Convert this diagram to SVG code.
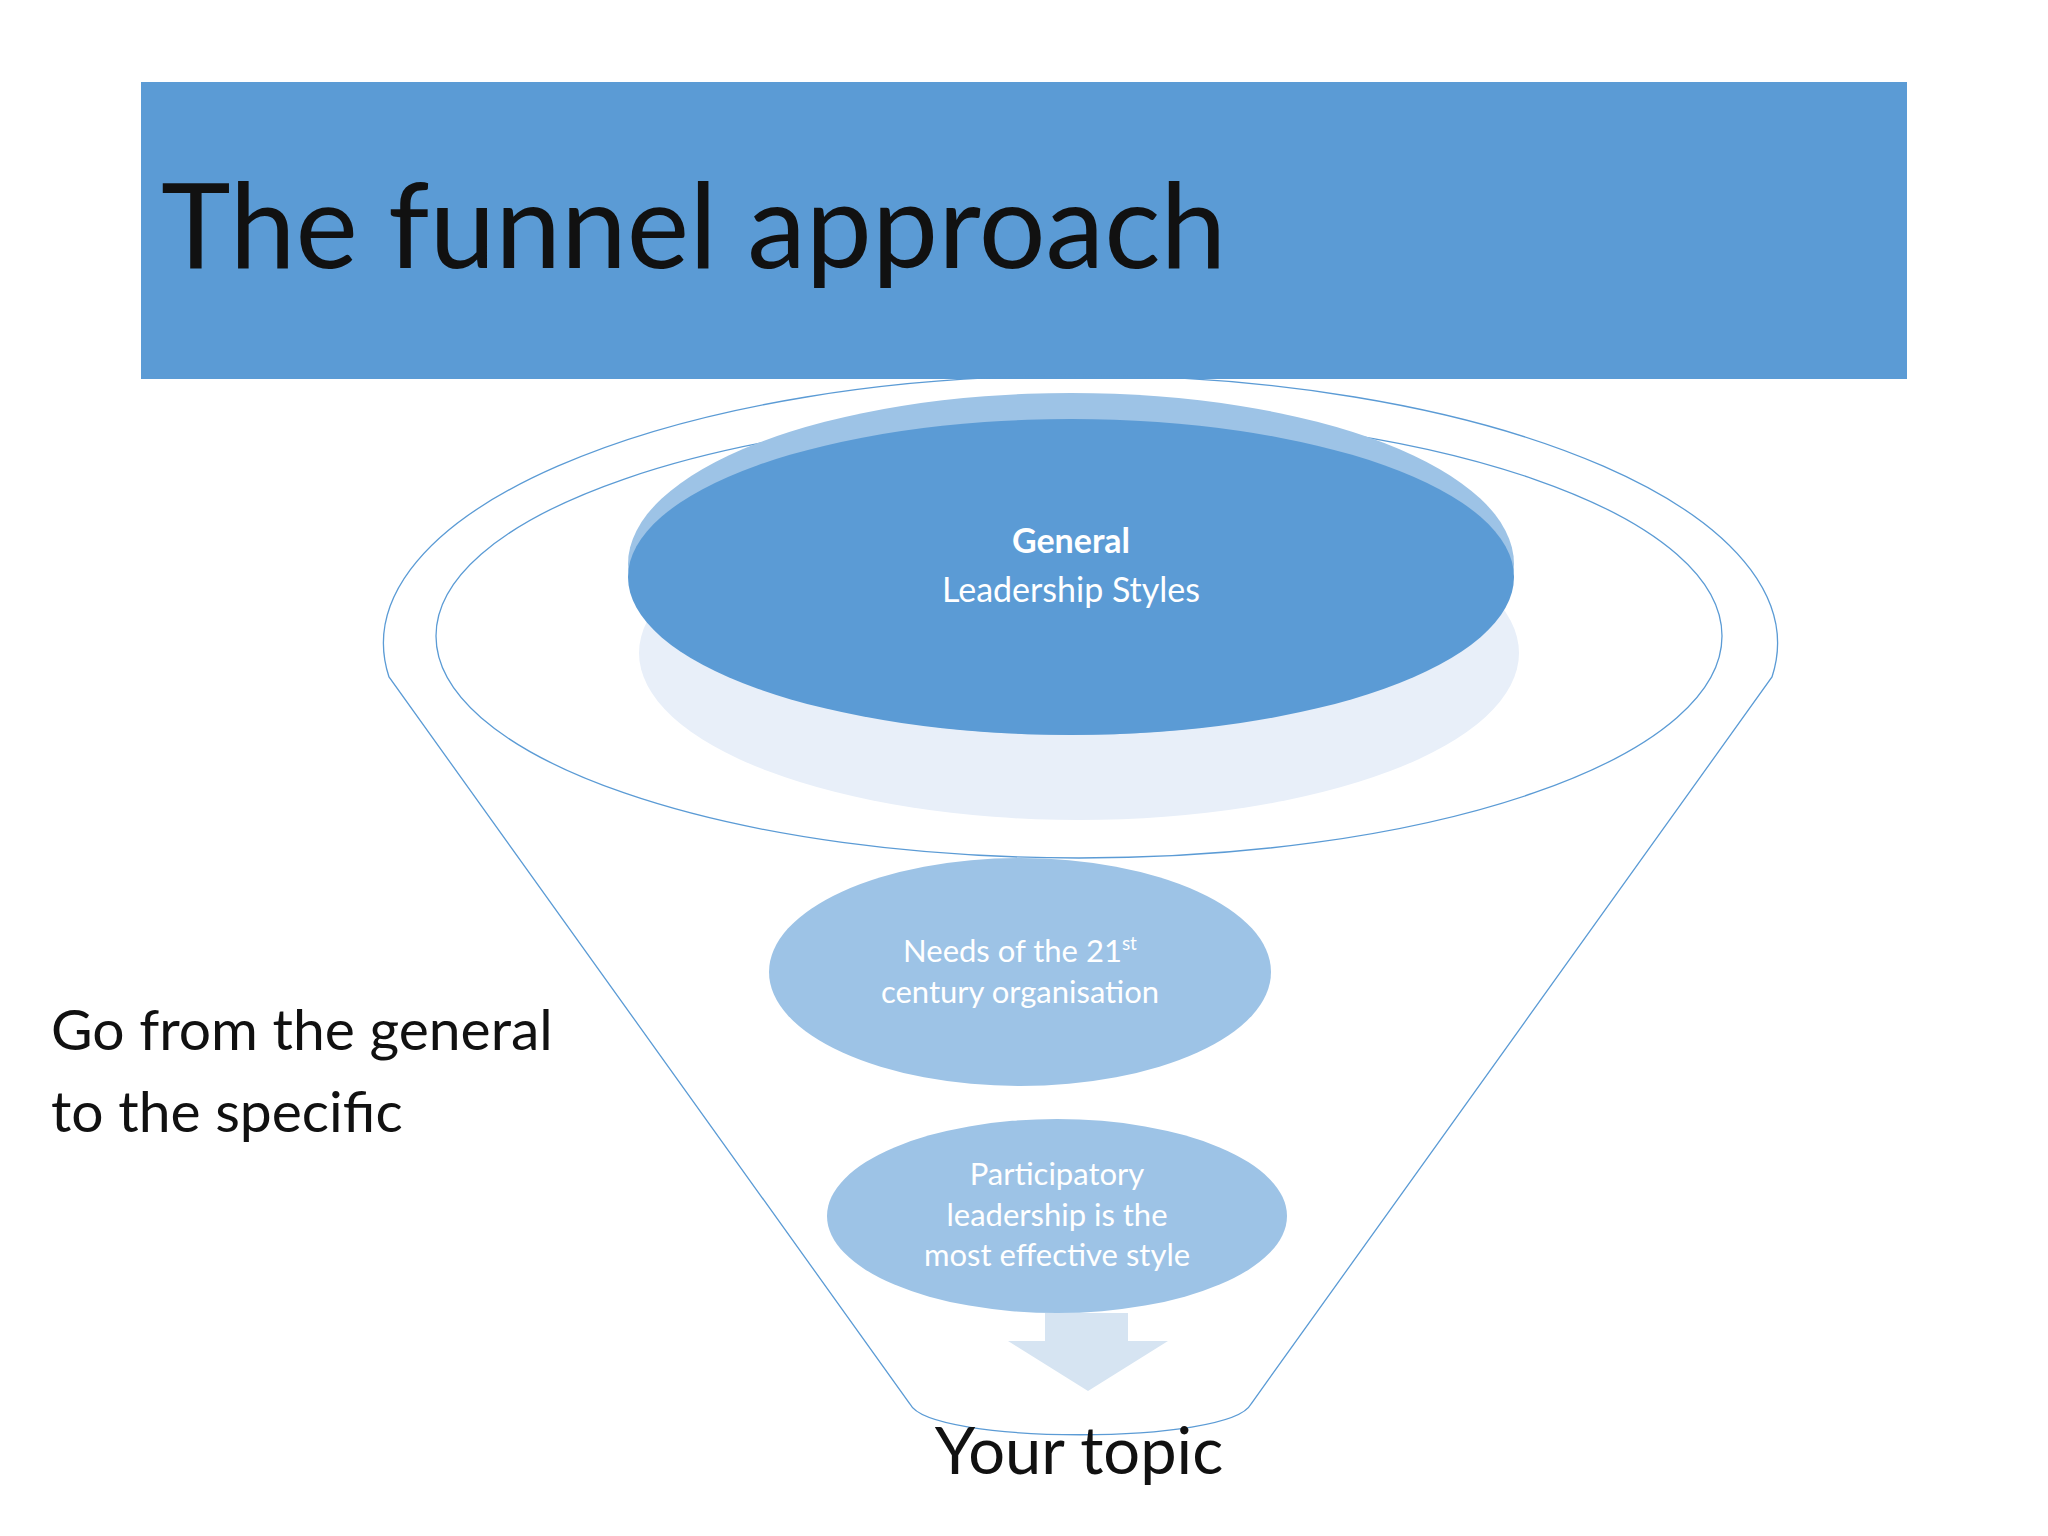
<svg xmlns="http://www.w3.org/2000/svg" width="2048" height="1536" viewBox="0 0 2048 1536">
<style>
text{font-family:Lato,"Open Sans","Liberation Sans",sans-serif}
.w{fill:#fff;text-anchor:middle}
.ln{fill:none;stroke:#5b9bd5;stroke-width:1.3}
</style>
<rect width="2048" height="1536" fill="#fff"/>
<g id="header"><rect x="141" y="82" width="1766" height="297" fill="#5b9bd5"/>
<text x="161" y="268" font-size="118" fill="#111">The funnel approach</text></g>
<g id="funnel">
<path class="ln" d="M389,677 A697,268 0 1 1 1772,677 L1251,1404 C1230,1445 930,1445 910,1404 Z"/>
<ellipse class="ln" cx="1079" cy="636" rx="643" ry="222"/>
</g>
<g id="general">
<ellipse cx="1079" cy="653" rx="440" ry="167" fill="#e8eff9"/>
<ellipse cx="1071" cy="564" rx="443" ry="171" fill="#9dc3e6"/>
<ellipse cx="1071" cy="577" rx="443" ry="158" fill="#5b9bd5"/>
<text class="w" x="1071" y="553" font-size="34" font-weight="bold">General</text>
<text class="w" x="1071" y="602" font-size="34">Leadership Styles</text>
</g>
<g id="needs">
<ellipse cx="1020" cy="972" rx="251" ry="114" fill="#9dc3e6"/>
<text class="w" x="1020" y="962" font-size="31">Needs of the 21<tspan font-size="19" dy="-12">st</tspan></text>
<text class="w" x="1020" y="1003" font-size="31">century organisation</text>
</g>
<g id="participatory">
<ellipse cx="1057" cy="1216" rx="230" ry="97" fill="#9dc3e6"/>
<text class="w" x="1057" y="1185" font-size="31">Participatory</text>
<text class="w" x="1057" y="1226" font-size="31">leadership is the</text>
<text class="w" x="1057" y="1266" font-size="31">most effective style</text>
</g>
<g id="connectors">
<path d="M1045,1313 H1128 V1341 H1168 L1088,1391 L1008,1341 H1045 Z" fill="#d6e4f2"/>
</g>
<g id="topic"><text x="1079" y="1474" font-size="65" text-anchor="middle" fill="#111">Your topic</text></g>
<g id="note">
<text x="51" y="1050" font-size="57" fill="#111">Go from the general</text>
<text x="51" y="1132" font-size="57" fill="#111">to the specific</text>
</g>
</svg>
